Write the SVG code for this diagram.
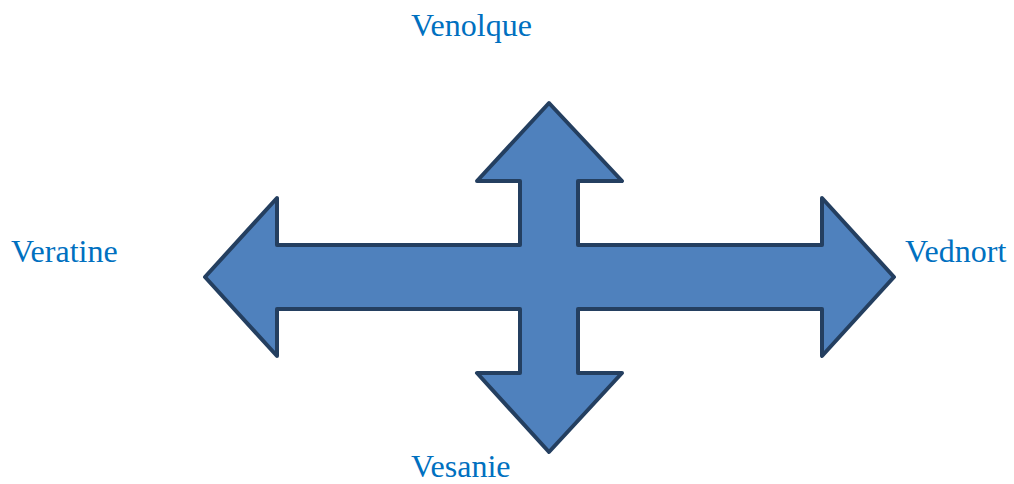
<svg xmlns="http://www.w3.org/2000/svg" width="1014" height="484" viewBox="0 0 1014 484">
<style>
.lbl{font-family:"Liberation Serif","Times New Roman",serif;font-size:32px;fill:#0070C0;}
.arrow{fill:#4F81BD;stroke:#243F60;stroke-width:4;stroke-linejoin:round;}
</style>
<rect width="1014" height="484" fill="#ffffff"/>
<g id="connectors">
<path id="cross-arrow" class="arrow" d="M549,103 L622,181 L578,181 L578,245 L822,245 L822,198 L894,277 L822,356 L822,309 L578,309 L578,373 L622,373 L549,452 L477,373 L520,373 L520,309 L277,309 L277,356 L205,277 L277,198 L277,245 L520,245 L520,181 L477,181 Z"/>
</g>
<g id="node-top"><text class="lbl" x="411" y="36">Venolque</text></g>
<g id="node-left"><text class="lbl" x="11" y="262">Veratine</text></g>
<g id="node-right"><text class="lbl" x="905" y="262">Vednort</text></g>
<g id="node-bottom"><text class="lbl" x="411" y="477">Vesanie</text></g>
</svg>
